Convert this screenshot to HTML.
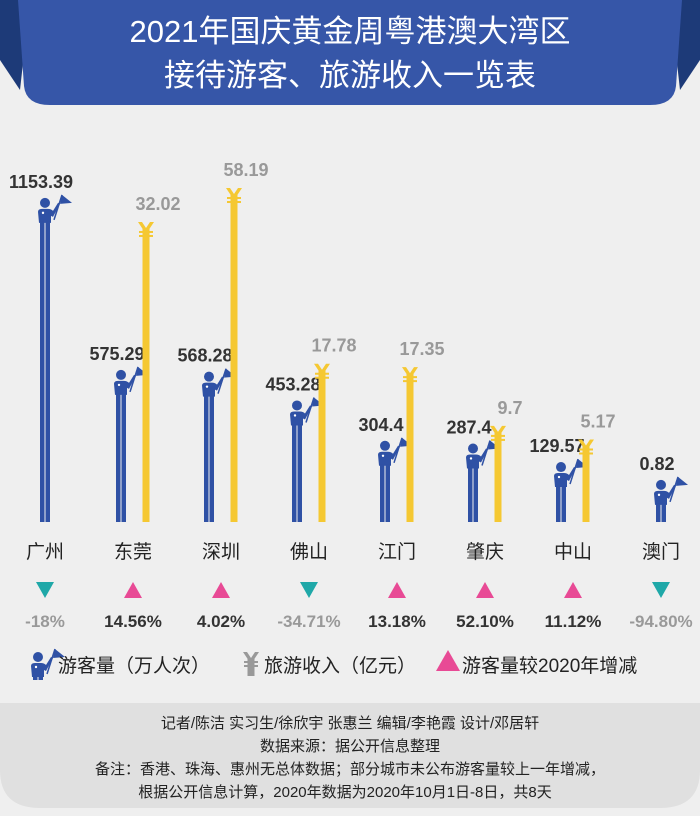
<!DOCTYPE html>
<html><head><meta charset="utf-8">
<style>
body{margin:0;background:#efefef;}
#wrap{position:relative;width:700px;height:816px;overflow:hidden;background:#efefef;font-family:"Liberation Sans","Noto Sans CJK SC",sans-serif;}
svg text{font-family:"Liberation Sans","Noto Sans CJK SC",sans-serif;}
</style></head>
<body>
<div id="wrap">
<svg id="chart" width="700" height="816" viewBox="0 0 700 816">
  <polygon points="0,0 30,0 20,90 0,60" fill="#1d3a78"/>
  <polygon points="700,0 670,0 680,90 700,60" fill="#1d3a78"/>
  <path d="M18,0 H682 L676,86 Q674,105 650,105 H50 Q26,105 24,86 Z" fill="#3656a8"/>
  <text x="350" y="42" text-anchor="middle" font-size="31" fill="#fff">2021年国庆黄金周粤港澳大湾区</text>
  <text x="350" y="86" text-anchor="middle" font-size="31" fill="#fff">接待游客、旅游收入一览表</text>
  <g id="marks"></g>
  <path d="M0,703 H700 V770 Q700,808 660,808 H40 Q0,808 0,770 Z" fill="#e0e0e0"/>
  <g font-size="15" fill="#222" text-anchor="middle">
    <text x="350" y="728">记者/陈洁 实习生/徐欣宇 张惠兰 编辑/李艳霞 设计/邓居轩</text>
    <text x="350" y="751">数据来源：据公开信息整理</text>
    <text x="350" y="774">备注：香港、珠海、惠州无总体数据；部分城市未公布游客量较上一年增减，</text>
    <text x="345" y="797">根据公开信息计算，2020年数据为2020年10月1日-8日，共8天</text>
  </g>
  <g>
    <g transform="translate(38,672)" id="legPerson"></g>
    <text x="58" y="672" font-size="19" fill="#222">游客量（万人次）</text>
    <g transform="translate(251,672)" id="legYen"></g>
    <text x="264" y="672" font-size="19" fill="#222">旅游收入（亿元）</text>
    <polygon points="436,671 448,650 460,671" fill="#e84a95"/>
    <text x="462" y="672" font-size="19" fill="#222">游客量较2020年增减</text>
  </g>
</svg>
</div>
<script>
const cities = ["广州","东莞","深圳","佛山","江门","肇庆","中山","澳门"];
const visitors = [1153.39,575.29,568.28,453.28,304.4,287.4,129.57,0.82];
const revenue = [null,32.02,58.19,17.78,17.35,9.7,5.17,null];
const revenueLabels = ["","32.02","58.19","17.78","17.35","9.7","5.17",""];
const visitorLabels = ["1153.39","575.29","568.28","453.28","304.4","287.4","129.57","0.82"];
const changes = [-18,14.56,4.02,-34.71,13.18,52.10,11.12,-94.80];
const changeLabels = ["-18%","14.56%","4.02%","-34.71%","13.18%","52.10%","11.12%","-94.80%"];

const NS="http://www.w3.org/2000/svg";
const BASE=522;
function xCity(i){return 45+i*88;}
function piece(v,dom,rng){
  if(v<=dom[0])return rng[0];
  for(let k=1;k<dom.length;k++){
    if(v<=dom[k]){const t=(v-dom[k-1])/(dom[k]-dom[k-1]);return rng[k-1]+t*(rng[k]-rng[k-1]);}
  }
  const n=dom.length-1;return rng[n]+(v-dom[n])*(rng[n]-rng[n-1])/(dom[n]-dom[n-1]);
}
function yVis(v){return BASE-piece(v,[0,130,300,455,575,1153],[42,60,80,122,152,324]);}
function yRev(v){return BASE-piece(v,[0,5,10,18,32,58.2],[60,82,97,160,300,334]);}
const g=document.getElementById('marks');
function mk(tag,attrs,parent){const e=document.createElementNS(NS,tag);for(const k in attrs)e.setAttribute(k,attrs[k]);(parent||g).appendChild(e);return e;}
function person(parent,x,top,bottom){
  const blue="#2f51a5";
  mk('circle',{cx:x,cy:top+5,r:5,fill:blue},parent);
  mk('path',{d:`M${x-7},${top+14} Q${x-7},${top+11} ${x-3},${top+11} H${x+3} Q${x+6},${top+11} ${x+8},${top+13} L${x+13},${top+5} L${x+15},${top+6} L${x+8},${top+19} L${x+6},${top+18} V${top+25} H${x-6} Z`,fill:blue},parent);
  mk('rect',{x:x-5,y:top+24,width:4.5,height:Math.max(bottom-top-24,4),fill:blue},parent);
  mk('rect',{x:x+0.5,y:top+24,width:4.5,height:Math.max(bottom-top-24,4),fill:blue},parent);
  mk('line',{x1:x+9,y1:top+22,x2:x+17,y2:top-3,stroke:blue,'stroke-width':1.5},parent);
  mk('polygon',{points:`${x+17},${top-3} ${x+27},${top+5} ${x+15},${top+6}`,fill:blue},parent);
  mk('circle',{cx:x-2,cy:top+15,r:1.2,fill:"#fff"},parent);
}
function yen(parent,x,top,bottom){
  const y="#f5c832";
  mk('rect',{x:x-3.5,y:top+6,width:7,height:bottom-top-6,fill:y},parent);
  mk('polygon',{points:`${x-8},${top} ${x-4},${top} ${x},${top+6} ${x+4},${top} ${x+8},${top} ${x+2},${top+9} ${x-2},${top+9}`,fill:y},parent);
  mk('rect',{x:x-7,y:top+9,width:14,height:2,fill:y},parent);
  mk('rect',{x:x-7,y:top+13,width:14,height:2,fill:y},parent);
}
cities.forEach((c,i)=>{
  const cx=xCity(i);
  const hasRev=revenue[i]!==null;
  const bx=hasRev?cx-12:cx;
  const grp=mk('g',{});
  
  
  const pg=mk('g',{},grp);
  
  
  const top=yVis(visitors[i]);
  person(pg,bx,top,BASE);
  const vl=mk('text',{x:bx-4,y:top-10,'text-anchor':'middle','font-size':18,'font-weight':'bold',fill:'#333'},grp);
  vl.textContent=visitorLabels[i];
  
  
  if(hasRev){
    const yx=cx+13;
    const rg=mk('g',{},grp);
    
    
    const rt=yRev(revenue[i]);
    yen(rg,yx,rt,BASE);
    const rl=mk('text',{x:yx+12,y:rt-12,'text-anchor':'middle','font-size':18,'font-weight':'bold',fill:'#999'},grp);
    rl.textContent=revenueLabels[i];
    
    
  }
  const cl=mk('text',{x:cx,y:558,'text-anchor':'middle','font-size':19,fill:'#222'},grp);
  cl.textContent=c;
  
  
  const up=changes[i]>=0;
  const tx=xCity(i);
  const tri=mk('polygon',{points:up?`${tx-9},${598} ${tx},${582} ${tx+9},${598}`:`${tx-9},${582} ${tx+9},${582} ${tx},${598}`,fill:up?'#e84a95':'#1fa8a8'},grp);
  
  
  const pl=mk('text',{x:tx,y:627,'text-anchor':'middle','font-size':17,'font-weight':'bold',fill:up?'#333':'#999'},grp);
  pl.textContent=changeLabels[i];
  
  
});
person(document.getElementById('legPerson'),0,-20,4);
yen(document.getElementById('legYen'),0,-20,4);
document.querySelectorAll('#legYen *').forEach(e=>e.setAttribute('fill','#999'));
</script>
</body></html>
